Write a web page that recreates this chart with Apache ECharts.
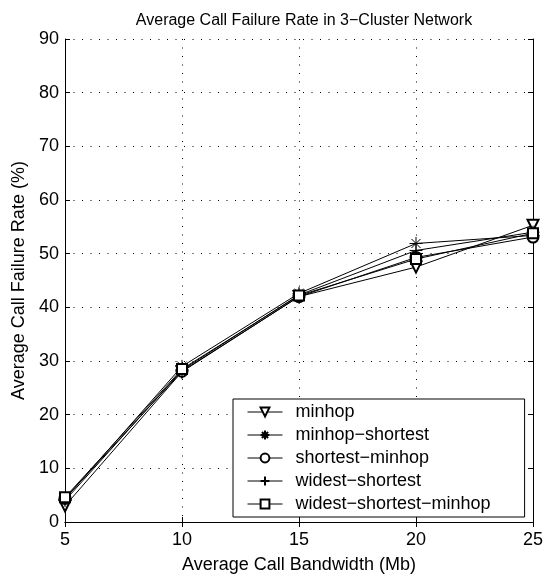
<!DOCTYPE html>
<html>
<head>
<meta charset="utf-8">
<script src="https://cdn.jsdelivr.net/npm/echarts@6/dist/echarts.min.js"></script>
<style>
html,body{margin:0;padding:0;background:#fff;}
#chart{width:547px;height:579px;}
</style>
</head>
<body>
<div id="chart"></div>
<script>
const bandwidth = [5, 10, 15, 20, 25];
const xTicks = [5, 10, 15, 20, 25];
const yTicks = [0, 10, 20, 30, 40, 50, 60, 70, 80, 90];
const minhop = [3.0, 28.0, 42.0, 47.5, 55.3];
const minhopShortest = [4.3, 29.0, 42.6, 51.9, 53.4];
const shortestMinhop = [4.4, 28.1, 42.0, 49.3, 53.1];
const widestShortest = [4.0, 28.3, 42.3, 50.6, 54.0];
const widestShortestMinhop = [4.6, 28.5, 42.2, 49.0, 53.8];
const seriesNames = ['minhop', 'minhop\u2212shortest', 'shortest\u2212minhop', 'widest\u2212shortest', 'widest\u2212shortest\u2212minhop'];

const FONT = "'Liberation Sans', Arial, Helvetica, sans-serif";
const STAR = 'path://M10,0L10,20M0,10L20,10M3,3L17,17M17,3L3,17';
const PLUS = 'path://M5,0L5,10M0,5L10,5';

function pairs(vals){ return bandwidth.map((b,i)=>[b, vals[i]]); }

const defs = [
  {name: seriesNames[0], data: minhop, symbol: 'emptyTriangle', rotate: 180, size: 11},
  {name: seriesNames[1], data: minhopShortest, symbol: STAR, rotate: 0, size: 13},
  {name: seriesNames[2], data: shortestMinhop, symbol: 'emptyCircle', rotate: 0, size: 11},
  {name: seriesNames[3], data: widestShortest, symbol: PLUS, rotate: 0, size: 13},
  {name: seriesNames[4], data: widestShortestMinhop, symbol: 'emptyRect', rotate: 0, size: 10}
];

const chart = echarts.init(document.getElementById('chart'), null, {renderer: 'canvas'});

const axisCommon = {
  axisLine: {show: true, lineStyle: {color: '#000', width: 1}},
  axisTick: {show: true, inside: true, length: 5, lineStyle: {color: '#000'}},
};

chart.setOption({
  animation: false,
  backgroundColor: '#fff',
  title: {
    text: 'Average Call Failure Rate in 3\u2212Cluster Network',
    left: 299, top: 8, textAlign: 'center',
    textStyle: {fontFamily: FONT, fontSize: 16, fontWeight: 'normal', color: '#000'}
  },
  grid: {left: 65, right: 14, top: 39, bottom: 55, containLabel: false},
  legend: {
    orient: 'vertical',
    left: 233, top: 399,
    data: seriesNames,
    backgroundColor: '#fff',
    borderColor: '#000', borderWidth: 1,
    padding: [4, 34, 4, 14],
    itemGap: 5,
    itemWidth: 35, itemHeight: 11,
    lineStyle: {color: '#000', width: 1},
    textStyle: {fontFamily: FONT, fontSize: 18, color: '#000', padding: [0, 0, 0, 8]}
  },
  xAxis: [
    Object.assign({}, axisCommon, {
      type: 'value', min: 5, max: 25, interval: 5, position: 'bottom',
      name: 'Average Call Bandwidth (Mb)', nameLocation: 'middle', nameGap: 34,
      nameTextStyle: {fontFamily: FONT, fontSize: 18, color: '#000'},
      axisLabel: {fontFamily: FONT, fontSize: 18, color: '#000', margin: 9,
        formatter: v => xTicks.indexOf(v) >= 0 ? String(v) : ''},
      splitLine: {show: true, lineStyle: {color: '#000', width: 1, type: [1, 7.5]}}
    }),
    Object.assign({}, axisCommon, {
      type: 'value', min: 5, max: 25, interval: 5, position: 'top',
      axisLabel: {show: false}, splitLine: {show: false}
    })
  ],
  yAxis: [
    Object.assign({}, axisCommon, {
      type: 'value', min: 0, max: 90, interval: 10, position: 'left',
      name: 'Average Call Failure Rate (%)', nameLocation: 'middle', nameGap: 36,
      nameTextStyle: {fontFamily: FONT, fontSize: 18, color: '#000'},
      axisLabel: {fontFamily: FONT, fontSize: 18, color: '#000', margin: 6,
        formatter: v => yTicks.indexOf(v) >= 0 ? String(v) : ''},
      splitLine: {show: true, lineStyle: {color: '#000', width: 1, type: [1, 7.5]}}
    }),
    Object.assign({}, axisCommon, {
      type: 'value', min: 0, max: 90, interval: 10, position: 'right',
      axisLabel: {show: false}, splitLine: {show: false}
    })
  ],
  series: defs.map(d => ({
    name: d.name,
    type: 'line',
    xAxisIndex: 0, yAxisIndex: 0,
    data: pairs(d.data),
    symbol: d.symbol,
    symbolSize: d.size,
    symbolRotate: d.rotate,
    showAllSymbol: true,
    lineStyle: {color: '#000', width: 1},
    itemStyle: {color: '#000', borderColor: '#000', borderWidth: 1},
    emphasis: {disabled: true}
  }))
});
</script>
</body>
</html>
